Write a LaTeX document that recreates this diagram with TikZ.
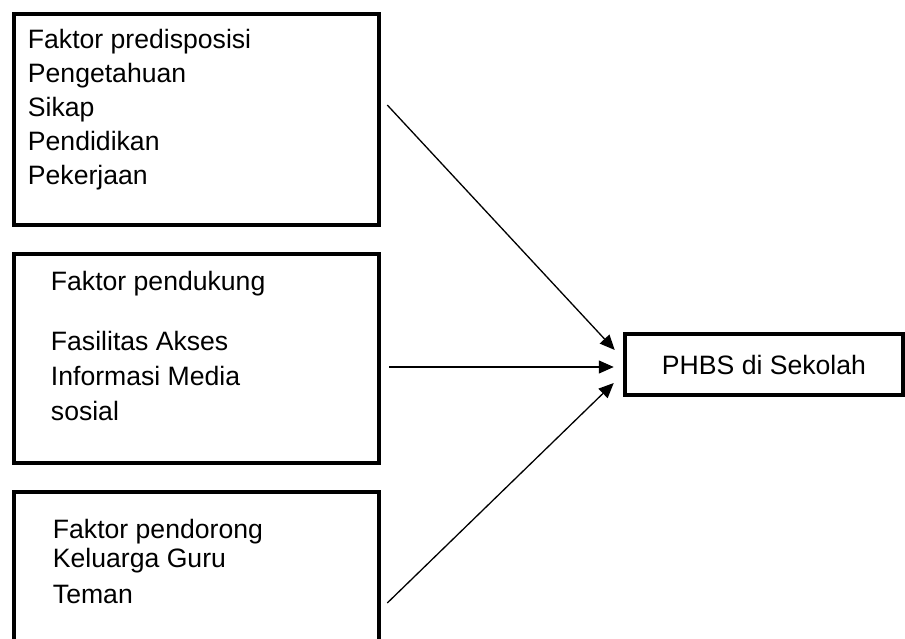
\documentclass[tikz,border=0pt]{standalone}
\usepackage{fontspec}
\setmainfont{Liberation Sans}
\usetikzlibrary{arrows.meta}

\tikzset{
  faktorbox/.style={draw,line width=4.5pt,inner sep=0pt},
  boxtext/.style={anchor=north west,inner sep=0pt,align=left,font=\fontsize{26.6}{34}\selectfont},
  panah/.style={line width=1.3pt,-{Triangle[length=15pt,width=13pt]}}
}

\begin{document}
\begin{tikzpicture}[x=1pt,y=-1pt]
\useasboundingbox (0,0) rectangle (905,639);

% kotak faktor
\node[faktorbox,minimum width=365pt,minimum height=211pt] (predis) at (196.5,119.5) {};
\node[faktorbox,minimum width=365pt,minimum height=209pt] (dukung) at (196.5,358.5) {};
\node[faktorbox,minimum width=365pt,minimum height=168pt] (dorong) at (196.5,576) {};
\node[faktorbox,minimum width=278pt,minimum height=61pt,font=\fontsize{26.6}{34}\selectfont] (phbs) at (764,364.5) {PHBS di Sekolah};

% isi kotak
\node[boxtext] (predistxt) at ([xshift=16pt,yshift=-17pt]predis.north west)
  {Faktor predisposisi\\Pengetahuan\\Sikap\\Pendidikan\\Pekerjaan};
\node[boxtext,font=\fontsize{26.6}{35}\selectfont] (dukungtxt) at ([xshift=39pt,yshift=-19pt]dukung.north west)
  {Faktor pendukung\\[25pt]Fasilitas Akses\\Informasi Media\\sosial};
\node[boxtext,font=\fontsize{26.6}{29}\selectfont] (dorongtxt) at ([xshift=41pt,yshift=-29pt]dorong.north west)
  {Faktor pendorong\\Keluarga Guru\\[7pt]Teman};

% panah
\draw[panah] ([xshift=6pt,yshift=14.5pt]predis.east) -- ([xshift=-8pt,yshift=14.5pt]phbs.west);
\draw[panah] ([xshift=8pt,yshift=-8.5pt]dukung.east) -- ([xshift=-9pt,yshift=-2.5pt]phbs.west);
\draw[panah] ([xshift=6pt,yshift=-27pt]dorong.east) -- ([xshift=-9pt,yshift=-18.5pt]phbs.west);
\end{tikzpicture}
\end{document}
